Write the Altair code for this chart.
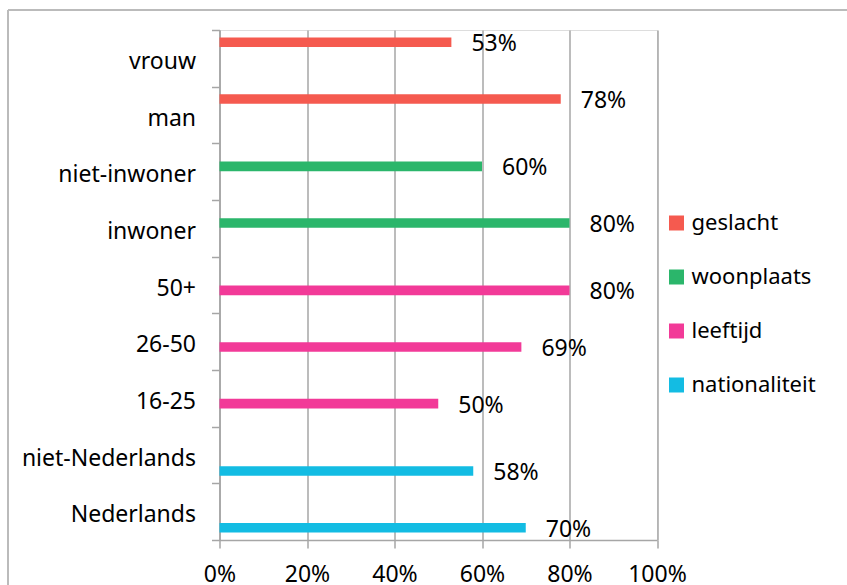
import altair as alt
import pandas as pd

categories = ["vrouw", "man", "niet-inwoner", "inwoner", "50+", "26-50", "16-25",
              "niet-Nederlands", "Nederlands"]
groups = ["geslacht", "geslacht", "woonplaats", "woonplaats", "leeftijd", "leeftijd",
          "leeftijd", "nationaliteit", "nationaliteit"]
values = [0.53, 0.78, 0.60, 0.80, 0.80, 0.69, 0.50, 0.58, 0.70]
labels = ["53%", "78%", "60%", "80%", "80%", "69%", "50%", "58%", "70%"]

series = ["geslacht", "woonplaats", "leeftijd", "nationaliteit"]
colors = ["#F55A4F", "#2BB66B", "#F23A98", "#13BCE3"]
x_ticks = [0, 0.2, 0.4, 0.6, 0.8, 1.0]

df = pd.DataFrame({"cat": categories, "grp": groups, "val": values, "lab": labels})

FONT = "Noto Sans"
FS = 23
GRID = "#A6A6A6"

y_enc = alt.Y("cat:N", sort=categories, title=None,
              scale=alt.Scale(paddingInner=0, paddingOuter=0),
              axis=alt.Axis(tickBand="extent", tickSize=8, labelPadding=16,
                            labelOffset=3,
                            domainColor=GRID, tickColor=GRID, domainWidth=1.5,
                            tickWidth=1.5, labelFont=FONT, labelFontSize=FS,
                            labelColor="#000000", grid=False))
yoff = alt.YOffset("grp:N", sort=series,
                   scale=alt.Scale(domain=series, paddingInner=0.1, paddingOuter=0.7))

bars = alt.Chart(df).mark_bar(cornerRadius=0).encode(
    x=alt.X("val:Q", title=None,
            scale=alt.Scale(domain=[0, 1], nice=False),
            axis=alt.Axis(values=x_ticks, format=".0%", grid=True, gridColor=GRID,
                          gridWidth=1.5, tickSize=8, tickColor=GRID, tickWidth=1.5,
                          domainColor=GRID, domainWidth=1.5, labelPadding=15,
                          labelFont=FONT, labelFontSize=FS, labelColor="#000000",
                          labelFlush=False)),
    y=y_enc,
    yOffset=yoff,
    color=alt.Color("grp:N", sort=series,
                    scale=alt.Scale(domain=series, range=colors),
                    legend=alt.Legend(title=None, orient="none", legendX=446, legendY=182,
                                      padding=0,
                                      symbolType="square", symbolSize=225,
                                      symbolStrokeWidth=0, labelFont=FONT,
                                      labelFontSize=22, labelColor="#000000",
                                      rowPadding=32, labelOffset=4)),
)

text = alt.Chart(df).mark_text(align="left", baseline="middle", dx=20, dy=2,
                               font=FONT, fontSize=FS, color="#000000").encode(
    x="val:Q",
    y=alt.Y("cat:N", sort=categories),
    yOffset=yoff,
    text="lab:N",
)

border = alt.Chart(df).mark_rule(color="#BBBBBB", strokeWidth=1.5).encode(
    x=alt.value(-211.5), y=alt.value(-20), y2=alt.value(600))
border_top = alt.Chart(df).mark_rule(color="#BBBBBB", strokeWidth=1.5).encode(
    x=alt.value(-211.5), x2=alt.value(700), y=alt.value(-20))

chart = alt.layer(bars, text, border, border_top).properties(
    width=437.5, height=510,
    padding={"left": 219.5, "top": 30, "right": 190, "bottom": 45},
    autosize=alt.AutoSizeParams(type="none"),
).configure_view(stroke=None).configure(background="white")

chart.save("out.html", embed_options={"renderer": "svg", "actions": False})
